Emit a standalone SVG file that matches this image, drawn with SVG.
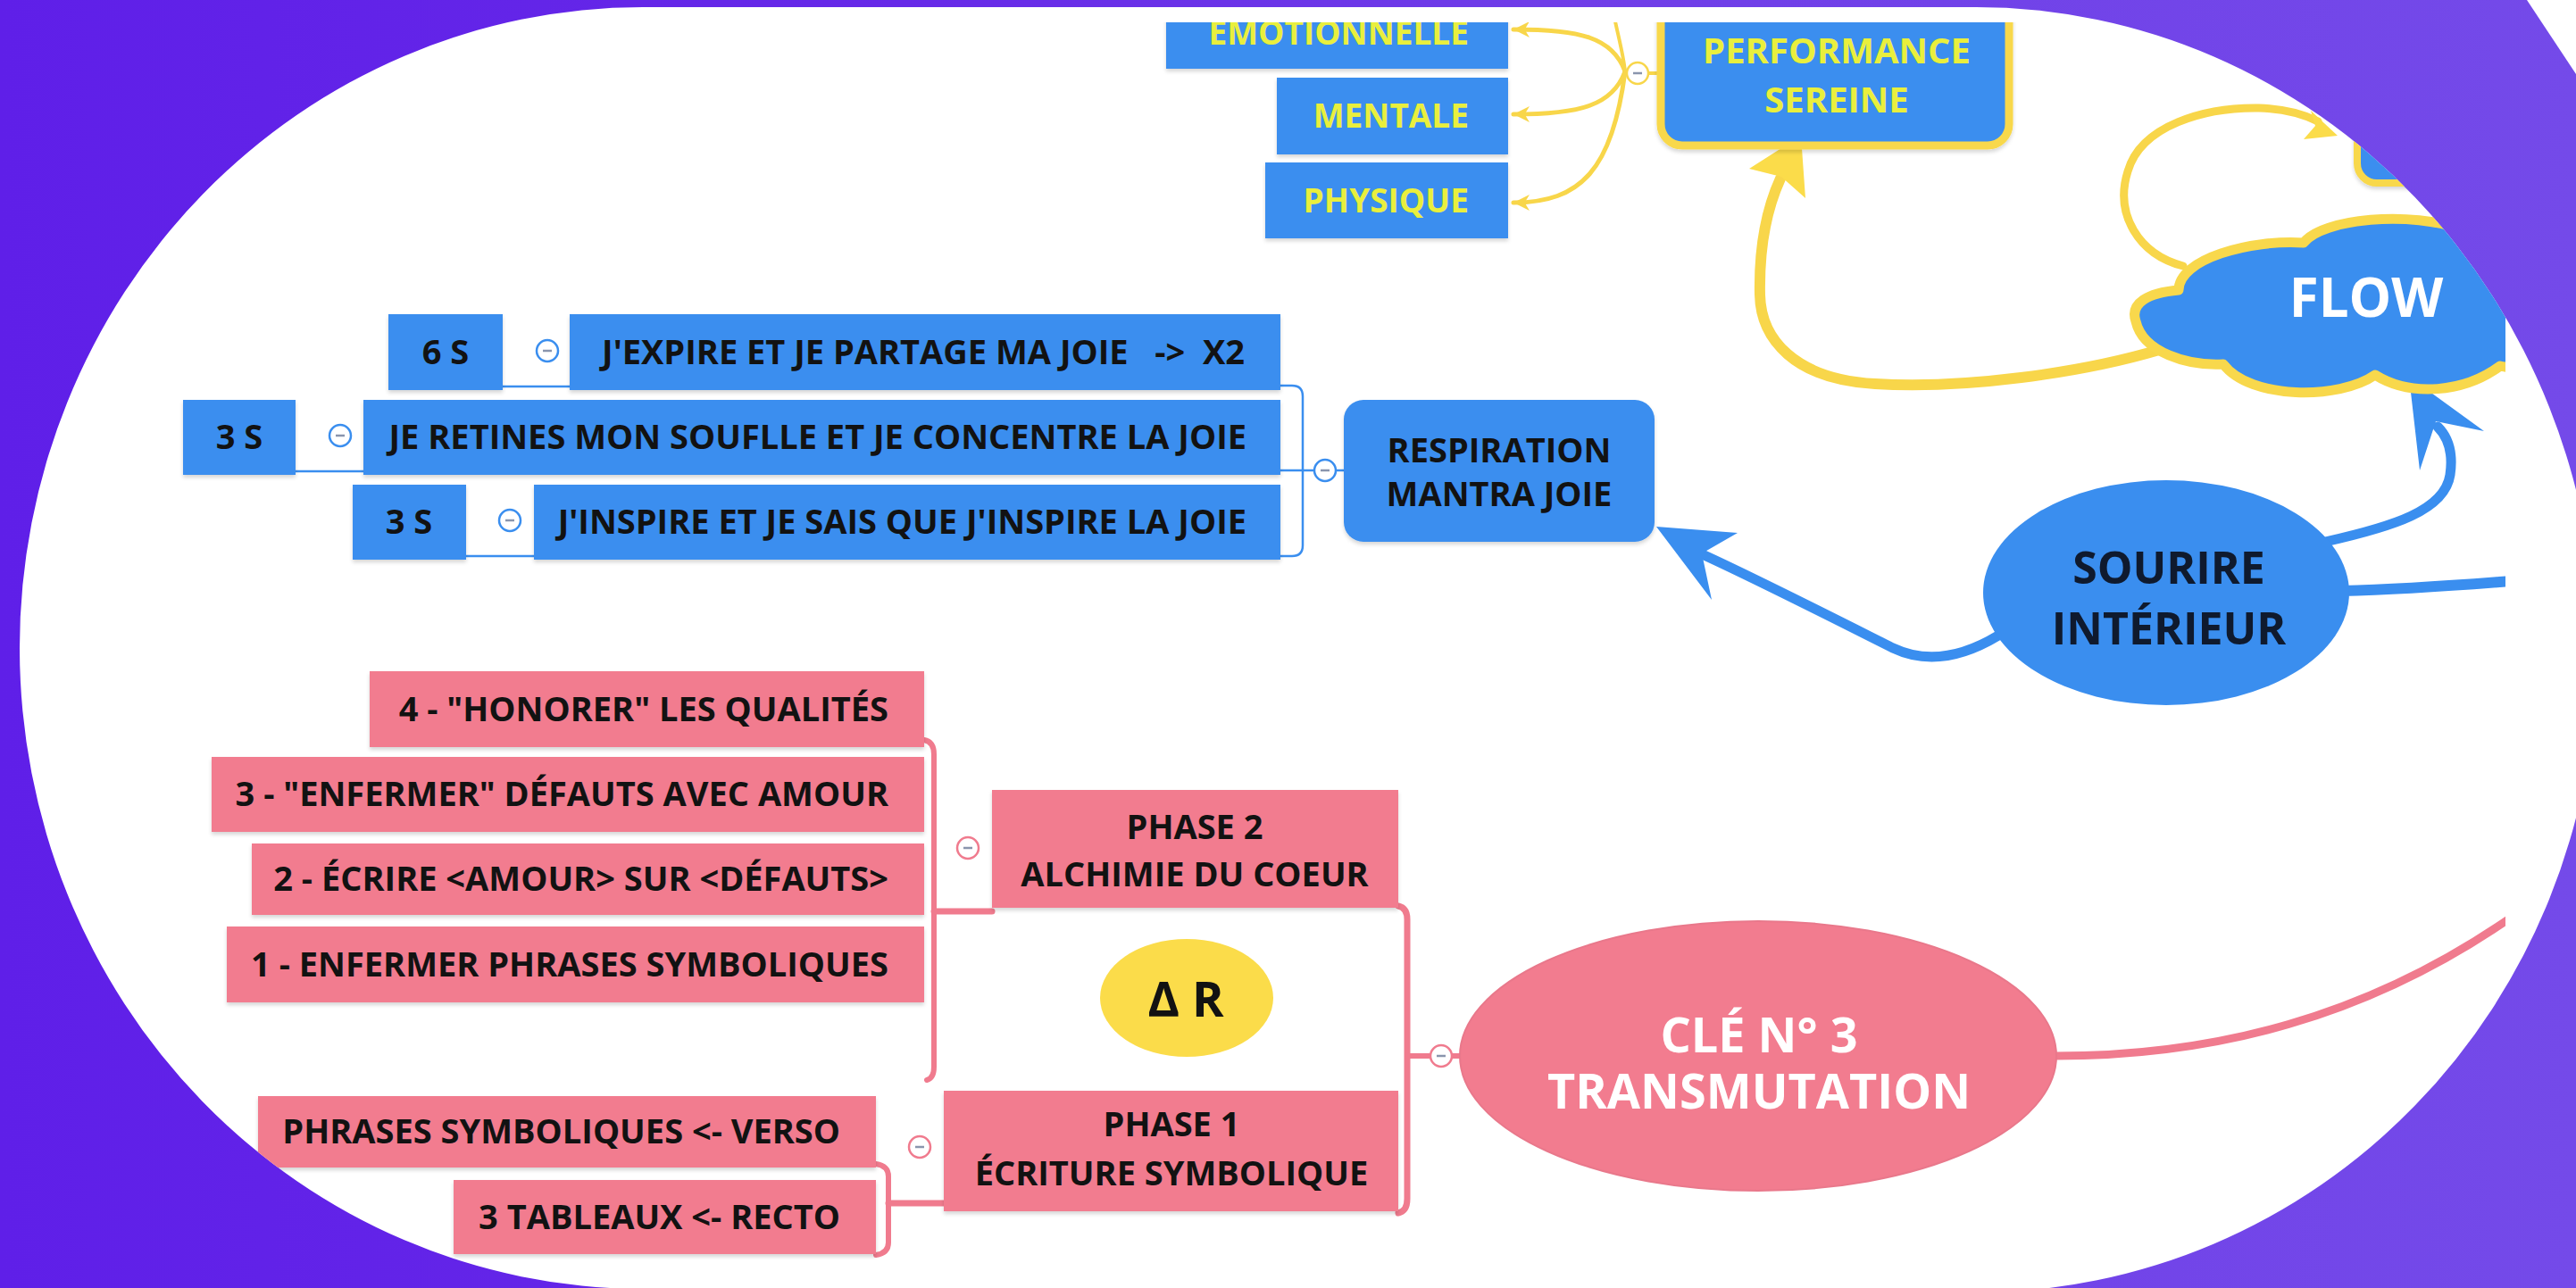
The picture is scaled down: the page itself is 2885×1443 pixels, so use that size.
<svg xmlns="http://www.w3.org/2000/svg" width="2885" height="1443" viewBox="0 0 2885 1443">
<defs>
<linearGradient id="bg" x1="0" y1="0" x2="2885" y2="0" gradientUnits="userSpaceOnUse">
<stop offset="0" stop-color="#5f1fe8"/>
<stop offset="0.35" stop-color="#6629e8"/>
<stop offset="0.6" stop-color="#6f3de8"/>
<stop offset="1" stop-color="#744ae9"/>
</linearGradient>
<clipPath id="blob"><path d="M720,8 L2213,8 A695,726 0 0 1 2908,734 A695,714 0 0 1 2213,1448 L720,1444 A698,718 0 0 1 720,8 Z"/></clipPath>
<clipPath id="frame"><rect x="0" y="25" width="2806" height="1418"/></clipPath>
<filter id="sh" x="-5%" y="-10%" width="110%" height="130%">
<feDropShadow dx="0" dy="3" stdDeviation="2" flood-color="#000000" flood-opacity="0.16"/>
</filter>
<marker id="ay" viewBox="0 0 10 10" refX="10" refY="5" markerWidth="3.6" markerHeight="3.6" orient="auto">
<path d="M0,0 L10,5 L0,10 L3,5 Z" fill="#f8d64a"/>
</marker>
<style>
.t{font-family:"Open Sans","Liberation Sans",sans-serif;font-weight:700}
.bx{font-size:38px;fill:#121212}
.blue{fill:#3a8eef}
.pink{fill:#f27c8f}
rect.blue,rect.pink{filter:url(#sh)}
.yfill{fill:#fbdc4a}
.ytxt{fill:#e9ef3d}
.wtxt{fill:#ffffff}
.ln{fill:none;stroke-linecap:round;stroke-linejoin:round}
.lb{stroke:#3a8eef}
.lp{stroke:#f07b8e}
.ly{stroke:#f8d64a}
.knob{fill:#ffffff;stroke-width:2.5}
.minus{stroke:#8a95ad;stroke-width:2.5}
</style>
</defs>
<rect width="2885" height="1443" fill="#ffffff"/>
<path d="M0,0 L2830,0 L2885,83 L2885,1443 L0,1443 Z" fill="url(#bg)"/>
<path d="M720,8 L2213,8 A695,726 0 0 1 2908,734 A695,714 0 0 1 2213,1448 L720,1444 A698,718 0 0 1 720,8 Z" fill="#ffffff"/>
<g clip-path="url(#blob)">
<g clip-path="url(#frame)">
<g id="connectors">
<path class="ln ly" stroke-width="5" d="M1820,80 C1806,42 1770,33 1695,33" marker-end="url(#ay)"/>
<path class="ln ly" stroke-width="5" d="M1820,80 C1806,118 1770,128 1695,128" marker-end="url(#ay)"/>
<path class="ln ly" stroke-width="5" d="M1820,80 C1806,190 1770,227 1695,227" marker-end="url(#ay)"/>
<path class="ln ly" stroke-width="4" d="M1820,80 C1818,60 1812,40 1806,10"/>
<path class="ln ly" stroke-width="4" d="M1846,82 L1860,82"/>
<circle class="knob ly" cx="1834" cy="82" r="12"/>
<path class="minus" d="M1829,82 L1839,82"/>
<path class="ln ly" stroke-width="12" d="M2418,392 C2330,418 2200,436 2100,430 C2010,425 1972,380 1971,330 C1970,280 1978,235 1994,200"/>
<polygon class="yfill" points="2017,152 2022,222 1995,198 1959,189"/>
<path class="ln ly" stroke-width="9" d="M2445,298 C2395,285 2368,240 2383,192 C2398,140 2470,120 2530,121 C2560,122 2580,128 2596,136"/>
<polygon class="yfill" points="2618,152 2588,124 2593,141 2580,156"/>
<path class="ln lb" stroke-width="11" d="M2604,607 C2680,590 2738,572 2744,532 C2748,505 2740,488 2730,478"/>
<polygon class="blue" points="2698,422 2782,483 2728,472 2710,527"/>
<path class="ln lb" stroke-width="12" d="M2622,662 C2700,660 2760,655 2812,651"/>
<path class="ln lb" stroke-width="11" d="M2238,712 C2200,735 2160,745 2120,726 C2080,706 1960,645 1902,619"/>
<polygon class="blue" points="1855,590 1946,597 1906,620 1917,672"/>
<path class="ln lb" stroke-width="2.5" d="M563,433 L638,433"/>
<path class="ln lb" stroke-width="2.5" d="M331,528 L407,528"/>
<path class="ln lb" stroke-width="2.5" d="M522,623 L598,623"/>
<path class="ln lb" stroke-width="2.5" d="M1434,432 L1447,432 Q1459,432 1459,444 L1459,611 Q1459,623 1447,623 L1434,623"/>
<path class="ln lb" stroke-width="2.5" d="M1434,527 L1472,527 M1496,527 L1505,527"/>
<circle class="knob lb" cx="1484" cy="527" r="12"/>
<path class="minus" d="M1479,527 L1489,527"/>
<circle class="knob lb" cx="613" cy="393" r="12"/>
<path class="minus" d="M608,393 L618,393"/>
<circle class="knob lb" cx="381" cy="488" r="12"/>
<path class="minus" d="M376,488 L386,488"/>
<circle class="knob lb" cx="571" cy="583" r="12"/>
<path class="minus" d="M566,583 L576,583"/>
<path class="ln lp" stroke-width="6" d="M1035,829 Q1046,831 1046,845 L1046,1195 Q1046,1208 1038,1210"/>
<path class="ln lp" stroke-width="7" d="M1046,1021 L1111,1021"/>
<circle class="knob lp" cx="1084" cy="950" r="12"/>
<path class="minus" d="M1079,950 L1089,950"/>
<path class="ln lp" stroke-width="6" d="M981,1304 Q995,1306 995,1318 L995,1392 Q995,1404 981,1406"/>
<path class="ln lp" stroke-width="7" d="M995,1348 L1057,1348"/>
<circle class="knob lp" cx="1030" cy="1285" r="12"/>
<path class="minus" d="M1025,1285 L1035,1285"/>
<path class="ln lp" stroke-width="7" d="M1566,1015 Q1576,1017 1576,1030 L1576,1343 Q1576,1357 1566,1359"/>
<path class="ln lp" stroke-width="6" d="M1576,1183 L1602,1183 M1626,1183 L1640,1183"/>
<circle class="knob lp" cx="1614" cy="1183" r="12"/>
<path class="minus" d="M1609,1183 L1619,1183"/>
<path class="ln lp" stroke-width="9" d="M2302,1183 C2480,1183 2650,1140 2812,1028"/>
</g>
<g id="n-emotionnelle"><rect class="blue" x="1306" y="-8" width="383" height="85"/><text class="t ytxt" font-size="37" x="1645" y="50" text-anchor="end">EMOTIONNELLE</text></g>
<g id="n-mentale"><rect class="blue" x="1430" y="87" width="259" height="86"/><text class="t ytxt" font-size="37" x="1645" y="143" text-anchor="end">MENTALE</text></g>
<g id="n-physique"><rect class="blue" x="1417" y="182" width="272" height="85"/><text class="t ytxt" font-size="37" x="1645" y="238" text-anchor="end">PHYSIQUE</text></g>
<g id="n-performance"><rect class="blue" x="1860" y="-30" width="390" height="193" rx="24" stroke="#f8d84c" stroke-width="9"/><text class="t ytxt" font-size="40" x="2057" y="71" text-anchor="middle">PERFORMANCE</text><text class="t ytxt" font-size="40" x="2057" y="126" text-anchor="middle">SEREINE</text></g>
<g id="n-topright"><rect class="blue" x="2640" y="40" width="300" height="165" rx="22" stroke="#f8d84c" stroke-width="8"/></g>
<g id="n-flow"><path class="blue" stroke="#f8d84c" stroke-width="11" stroke-linejoin="round" d="M2392,360 C2385,340 2405,328 2440,325 C2440,290 2520,268 2580,272 C2600,245 2700,235 2760,258 C2800,260 2850,300 2850,340 C2870,380 2840,420 2800,410 C2760,440 2700,445 2660,420 C2620,448 2520,448 2490,408 C2450,410 2400,395 2392,360 Z"/><text class="t wtxt" font-size="60" x="2650" y="355" text-anchor="middle">FLOW</text></g>
<g id="n-sourire"><ellipse class="blue" cx="2426" cy="664" rx="205" ry="126"/><text class="t" fill="#0f1a2e" font-size="50" x="2429" y="654" text-anchor="middle">SOURIRE</text><text class="t" fill="#0f1a2e" font-size="50" x="2429" y="722" text-anchor="middle">INTÉRIEUR</text></g>
<g id="n-respiration"><rect class="blue" x="1505" y="448" width="348" height="159" rx="22"/><text class="t bx" font-size="39" x="1679" y="518" text-anchor="middle">RESPIRATION</text><text class="t bx" font-size="39" x="1679" y="567" text-anchor="middle">MANTRA JOIE</text></g>
<g id="n-6s"><rect class="blue" x="435" y="352" width="128" height="85"/><text class="t bx" x="499" y="408" text-anchor="middle">6 S</text></g>
<g id="n-expire"><rect class="blue" x="638" y="352" width="796" height="85"/><text class="t bx" x="1394" y="408" text-anchor="end" xml:space="preserve">J'EXPIRE ET JE PARTAGE MA JOIE   -&gt;  X2</text></g>
<g id="n-3s-a"><rect class="blue" x="205" y="448" width="126" height="84"/><text class="t bx" x="268" y="503" text-anchor="middle">3 S</text></g>
<g id="n-retiens"><rect class="blue" x="407" y="448" width="1027" height="84"/><text class="t bx" x="1396" y="503" text-anchor="end">JE RETINES MON SOUFLLE ET JE CONCENTRE LA JOIE</text></g>
<g id="n-3s-b"><rect class="blue" x="395" y="543" width="127" height="84"/><text class="t bx" x="458" y="598" text-anchor="middle">3 S</text></g>
<g id="n-inspire"><rect class="blue" x="598" y="543" width="836" height="84"/><text class="t bx" x="1396" y="598" text-anchor="end">J'INSPIRE ET JE SAIS QUE J'INSPIRE LA JOIE</text></g>
<g id="n-honorer"><rect class="pink" x="414" y="752" width="621" height="85"/><text class="t bx" x="995" y="808" text-anchor="end">4 - "HONORER" LES QUALITÉS</text></g>
<g id="n-enfermer-defauts"><rect class="pink" x="237" y="848" width="798" height="84"/><text class="t bx" x="995" y="903" text-anchor="end">3 - "ENFERMER" DÉFAUTS AVEC AMOUR</text></g>
<g id="n-ecrire"><rect class="pink" x="282" y="945" width="753" height="80"/><text class="t bx" x="995" y="998" text-anchor="end">2 - ÉCRIRE &lt;AMOUR&gt; SUR &lt;DÉFAUTS&gt;</text></g>
<g id="n-enfermer-phrases"><rect class="pink" x="254" y="1038" width="781" height="85"/><text class="t bx" x="995" y="1094" text-anchor="end">1 - ENFERMER PHRASES SYMBOLIQUES</text></g>
<g id="n-phase2"><rect class="pink" x="1111" y="885" width="455" height="132"/><text class="t bx" x="1338" y="940" text-anchor="middle">PHASE 2</text><text class="t bx" x="1338" y="993" text-anchor="middle">ALCHIMIE DU COEUR</text></g>
<g id="n-delta"><ellipse class="yfill" cx="1329" cy="1118" rx="97" ry="66"/><text class="t" fill="#121212" font-size="54" x="1328" y="1139" text-anchor="middle">Δ R</text></g>
<g id="n-phase1"><rect class="pink" x="1057" y="1222" width="509" height="135"/><text class="t bx" x="1312" y="1273" text-anchor="middle">PHASE 1</text><text class="t bx" x="1312" y="1328" text-anchor="middle">ÉCRITURE SYMBOLIQUE</text></g>
<g id="n-verso"><rect class="pink" x="289" y="1228" width="692" height="80"/><text class="t bx" x="941" y="1281" text-anchor="end">PHRASES SYMBOLIQUES &lt;- VERSO</text></g>
<g id="n-recto"><rect class="pink" x="508" y="1322" width="473" height="83"/><text class="t bx" x="941" y="1377" text-anchor="end">3 TABLEAUX &lt;- RECTO</text></g>
<g id="n-cle"><ellipse class="pink" cx="1969" cy="1183" rx="334" ry="151" stroke="#e9788b" stroke-width="2"/><text class="t wtxt" font-size="54" x="1970" y="1179" text-anchor="middle">CLÉ N° 3</text><text class="t wtxt" font-size="54" x="1970" y="1242" text-anchor="middle">TRANSMUTATION</text></g>
</g>
</g>
</svg>
